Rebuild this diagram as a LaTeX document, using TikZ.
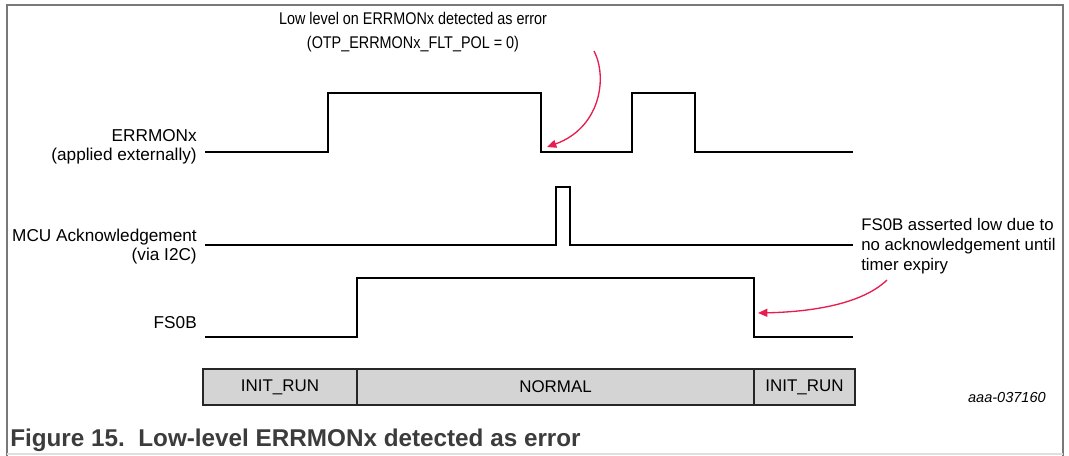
\documentclass[tikz,border=0pt]{standalone}
\usepackage{fontspec}
\setmainfont{Liberation Sans}
\newfontfamily\narrowfont[FakeStretch=0.85]{Liberation Sans}
\usetikzlibrary{arrows.meta}
\definecolor{notered}{RGB}{232,28,79}
\definecolor{framegray}{RGB}{120,120,120}
\definecolor{barfill}{RGB}{212,212,212}
\definecolor{captiongray}{RGB}{60,60,60}

\begin{document}
\begin{tikzpicture}[x=0.75pt,y=0.75pt,yscale=-1,xscale=1,
    signal/.style={line width=2.2pt, line join=miter},
    sigtext/.style={font=\fontsize{12.9}{14.3}\selectfont, align=right, anchor=east, inner sep=0pt},
    notetext/.style={font=\fontsize{12.6}{15}\selectfont, align=left, anchor=west, inner sep=0pt},
    phasebox/.style={draw=black!85, line width=1.5pt, fill=barfill},
    phasetext/.style={font=\fontsize{12.7}{14}\selectfont, inner sep=0pt},
    notearrow/.style={draw=notered, line width=1pt, -{Triangle[length=7pt,width=6pt]}}]
	%uncomment if require: \path (0,456); %picture is 1069 x 456
	\useasboundingbox (0,0) rectangle (1069,456);
	
	% frame
	\draw [color=framegray, line width=1.1pt] (7,456) -- (7,5) -- (1063,5) -- (1063,456) ;
	\draw [color=gray!25, line width=1pt] (7,454) -- (1063,454) ;
	
	% ERRMONx
	\draw [signal] (205,152) -- (328,152) -- (328,93) -- (541,93) -- (541,152) -- (632,152) -- (632,93) -- (695,93) -- (695,152) -- (853,152) ;
	% MCU ack
	\draw [signal] (205,245) -- (556,245) -- (556,187) -- (570,187) -- (570,245) -- (853,245) ;
	% FS0B
	\draw [signal] (205,337) -- (357,337) -- (357,278) -- (754,278) -- (754,337) -- (853,337) ;
	
	
	\draw (197,146.5) node (errlbl) [sigtext] {ERRMONx\\(applied externally)};
	\draw (197,246.5) node (mculbl) [sigtext] {MCU Acknowledgement\\(via I2C)};
	\draw (197,323) node (fslbl) [sigtext] {FS0B};
	
	
	% phases
	\draw [phasebox] (203,369) rectangle (357,405) ;
	\draw [phasebox] (357,369) rectangle (754,405) ;
	\draw [phasebox] (754,369) rectangle (855,405) ;
	\draw (280,387) node (initone) [phasetext] {INIT\_RUN};
	\draw (555.5,387) node (normal) [phasetext] {NORMAL};
	\draw (804.5,387) node (inittwo) [phasetext] {INIT\_RUN};
	
	
	% notes
	\draw (413,32) node (errnote) [font=\narrowfont\fontsize{12.7}{18}\selectfont, align=center, inner sep=0pt] {Low level on ERRMONx detected as error\\(OTP\_ERRMONx\_FLT\_POL = 0)};
	\draw (861,246) node (fsnote) [notetext] {FS0B asserted low due to\\no acknowledgement until\\timer expiry};
	
	\coordinate (errstart) at (594,51);
	\coordinate (errtip) at (547,147);
	\coordinate (fsstart) at (887,280);
	\coordinate (fstip) at (758,313);
	\draw [notearrow] (errstart) .. controls (608,78) and (600,128) .. (errtip) ;
	\draw [notearrow] (fsstart) .. controls (860,306) and (805,312) .. (fstip) ;
	
	
	\draw (1046,397) node (docid) [anchor=east, font=\itshape\fontsize{10.9}{12}\selectfont, inner sep=0pt] {aaa-037160};
	\draw (10,446) node (caption) [anchor=base west, inner sep=0pt, color=captiongray, font=\bfseries\fontsize{18.2}{20}\selectfont] {Figure 15.\ \ Low-level ERRMONx detected as error};
	
	
\end{tikzpicture}
\end{document}
